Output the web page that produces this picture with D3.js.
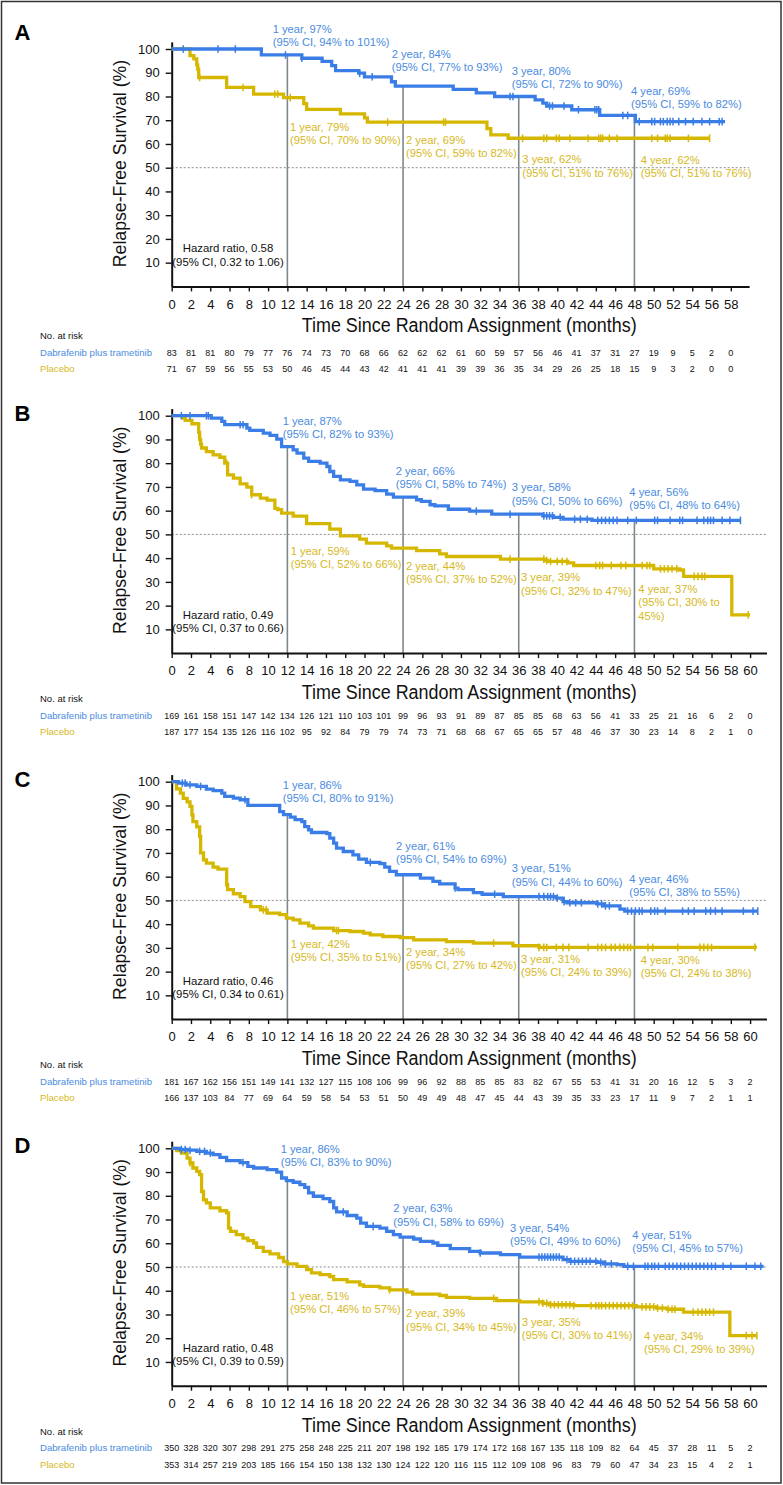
<!DOCTYPE html>
<html><head><meta charset="utf-8">
<script src="https://cdn.jsdelivr.net/npm/d3@7"></script>
<style>
body{margin:0;background:#fff}
svg{display:block}
text{font-family:"Liberation Sans",Arial,Helvetica,sans-serif}
</style>
</head><body>
<svg id="chart" width="783" height="1485"></svg>
<script>
// ---------------- DATA ----------------
const yTicks = [10,20,30,40,50,60,70,80,90,100];
const xTicksA = [0,2,4,6,8,10,12,14,16,18,20,22,24,26,28,30,32,34,36,38,40,42,44,46,48,50,52,54,56,58];
const xTicksBCD = [0,2,4,6,8,10,12,14,16,18,20,22,24,26,28,30,32,34,36,38,40,42,44,46,48,50,52,54,56,58,60];
const landmarkMonths = [12,24,36,48];
const seriesNames = ["Dabrafenib plus trametinib","Placebo"];

// Panel A
const aDabSteps = [[0,100],[9.3,97.5],[13.5,96.1],[15.6,94.8],[16.6,93],[17.0,90.9],[19.4,89.8],[20.0,88.3],[22.8,86.2],[23.2,84.4],[29.2,83],[31.6,81.5],[33.5,80],[37.7,78.6],[38.5,77.2],[38.9,76],[41.5,74.4],[44.4,72],[48.1,69.4],[57.4,69.4]];
const aDabCensor = [1.2,4.8,6.6,11.8,13.5,19.5,20.8,35.1,35.4,39.2,39.5,40.7,42.2,43.9,44.1,44.3,46.8,47.3,48.5,49.8,50.1,50.7,51.0,51.4,51.7,52.0,52.6,53.3,54.1,55.0,55.8,56.8,57.1];
const aPlaSteps = [[0,100],[1.9,97.2],[2.3,95.8],[2.6,93.3],[2.7,91.5],[2.8,88],[5.7,83.8],[8.5,81],[11.6,79.5],[13.7,77],[14.0,74.6],[17.5,72.7],[20.0,71],[20.3,69.2],[32.7,66.5],[33.1,63.8],[34.9,62.4],[55.8,62.4]];
const aPlaCensor = [2.9,7.4,10.7,11.0,12.3,22.4,28.2,28.4,36.4,38.6,38.9,39.9,40.2,41.3,43.2,44.3,44.5,44.7,45.4,46.2,49.8,50.4,51.2,51.4,51.7,53.6,55.8];
const aDabRisk = [83,81,81,80,79,77,76,74,73,70,68,66,62,62,62,61,60,59,57,56,46,41,37,31,27,19,9,5,2,0];
const aPlaRisk = [71,67,59,56,55,53,50,46,45,44,43,42,41,41,41,39,39,36,35,34,29,26,25,18,15,9,3,2,0,0];
const aDabLabels = [["1 year, 97%","(95% CI, 94% to 101%)"],["2 year, 84%","(95% CI, 77% to 93%)"],["3 year, 80%","(95% CI, 72% to 90%)"],["4 year, 69%","(95% CI, 59% to 82%)"]];
const aPlaLabels = [["1 year, 79%","(95% CI, 70% to 90%)"],["2 year, 69%","(95% CI, 59% to 82%)"],["3 year, 62%","(95% CI, 51% to 76%)"],["4 year, 62%","(95% CI, 51% to 76%)"]];
const aHazard = ["Hazard ratio, 0.58","(95% CI, 0.32 to 1.06)"];

// Panel B
const bDabSteps = [[0,100],[4.1,99],[5.2,97.6],[5.5,96.2],[7.8,94.8],[8.1,93.8],[9.5,92.7],[10.2,91.7],[10.9,90.1],[11.4,87],[12.6,85.6],[13,84.2],[13.7,82.1],[14.2,80.8],[15.4,80],[16.1,78.6],[16.4,76.5],[16.8,74.4],[17.5,73],[18.5,72.3],[19.2,70.9],[19.9,69.1],[21.1,68.4],[22.3,67],[23,65.7],[25.4,64.6],[25.9,63.9],[26.8,62.5],[27.3,62],[28.7,60.6],[30.9,59.8],[33.2,58.5],[38.5,57.8],[39.6,57.2],[40.6,56.4],[43.6,55.9],[59,55.9]];
const bDabCensor = [1.0,1.9,3.6,3.8,7.1,7.4,31.6,35.1,38.6,38.9,39.2,39.5,40.3,41.8,42.4,43.1,44.2,44.6,45.0,45.4,45.8,46.2,47.3,48.2,50.1,50.4,51.7,52.7,53.0,54.5,55.2,55.6,55.9,56.2,57.1,57.9,59.0];
const bPlaSteps = [[0,100],[1.2,99],[1.4,98],[2.1,96.6],[2.8,93],[2.9,90],[3.0,88],[3.1,86.4],[3.6,84.9],[4.3,83.5],[5.0,82.5],[5.5,80],[5.8,75.1],[6.4,73.7],[7.1,71.3],[7.8,69.9],[8.3,66.7],[9.2,65.3],[9.9,64.4],[10.7,61],[11.0,60.4],[11.4,59],[12.6,57.7],[14.0,54.5],[16.4,52.2],[17.5,49.4],[19.5,48],[20.2,46.3],[22.3,45.2],[22.8,44.2],[25.4,43.2],[27.8,41.8],[28.5,40.7],[34.1,39.6],[38.7,39],[39,38.6],[41.1,38],[41.7,36.9],[50,35.5],[52.7,35],[53.1,32.3],[58.1,16.1],[60,16.1]];
const bPlaCensor = [5.7,8.3,35.1,38.6,38.9,39.3,40.0,40.5,41.0,44.0,44.4,44.7,45.6,46.6,47.1,48.8,49.3,49.6,50.7,51.1,51.5,51.9,52.4,54.2,54.6,55.0,55.3,59.8];
const bDabRisk = [169,161,158,151,147,142,134,126,121,110,103,101,99,96,93,91,89,87,85,85,68,63,56,41,33,25,21,16,6,2,0];
const bPlaRisk = [187,177,154,135,126,116,102,95,92,84,79,79,74,73,71,68,68,67,65,65,57,48,46,37,30,23,14,8,2,1,0];
const bDabLabels = [["1 year, 87%","(95% CI, 82% to 93%)"],["2 year, 66%","(95% CI, 58% to 74%)"],["3 year, 58%","(95% CI, 50% to 66%)"],["4 year, 56%","(95% CI, 48% to 64%)"]];
const bPlaLabels = [["1 year, 59%","(95% CI, 52% to 66%)"],["2 year, 44%","(95% CI, 37% to 52%)"],["3 year, 39%","(95% CI, 32% to 47%)"],["4 year, 37%","(95% CI, 30% to","45%)"]];
const bHazard = ["Hazard ratio, 0.49","(95% CI, 0.37 to 0.66)"];

// Panel C
const cDabSteps = [[0,100],[0.7,99.4],[1.5,98.7],[2.6,98],[3.6,96.9],[4.3,96.2],[5.2,95.2],[5.5,93.8],[6.4,93.1],[7.1,92.4],[7.9,90],[11.2,87.4],[11.6,86.1],[12.3,85.1],[12.8,84],[13.5,83.2],[13.8,81.1],[14.2,79.7],[14.5,78.6],[16.1,78.1],[16.4,76.2],[16.8,74.1],[17.1,72],[17.8,70.6],[18.8,69.2],[19.4,67.4],[20.2,66],[21.6,65.5],[22.1,64],[22.6,62.2],[23.3,60.8],[25.8,59.4],[27.1,58],[27.8,57],[29.4,55.2],[29.7,54.5],[31.3,53.3],[32.2,52.6],[34.4,51.6],[39.9,51],[40.6,49.5],[41,49],[44.1,48.5],[44.8,47.7],[46.5,46.3],[47,45.5],[60.8,45.5]];
const cDabCensor = [1.1,1.4,1.9,3.0,7.6,20.6,29.4,33.5,38.1,38.6,39.0,39.3,39.6,40.0,40.7,41.3,41.9,42.5,44.2,44.6,45.0,45.4,47.3,47.7,48.1,48.5,48.8,49.7,50.1,50.4,51.2,53.0,53.6,54.2,55.4,55.9,56.4,57.1,59.3,60.3,60.8];
const cPlaSteps = [[0,100],[0.5,97],[0.9,95.2],[1.2,93],[1.6,91.5],[1.9,89.6],[2.1,86],[2.2,83.2],[2.6,81],[2.9,77],[3.0,70],[3.3,67.1],[3.6,65.7],[4.3,64],[4.8,63.2],[5.7,56.6],[5.8,54.5],[6.4,52.8],[7.1,51.6],[7.6,49.5],[8.2,47.4],[9.2,46],[9.9,44.6],[11.2,44],[11.9,42.5],[12.6,41.8],[13.3,40.4],[14.2,39.3],[14.7,38.3],[16.8,37.3],[18.5,36.9],[19.9,36.2],[20.6,35.5],[21.9,34.8],[23.7,34.3],[25.1,33.4],[28.5,32.6],[31.3,32],[35.4,30.9],[38.1,30.2],[60.7,30.2]];
const cPlaCensor = [9.5,9.8,17.1,17.3,33.4,38.1,38.6,38.9,39.9,40.6,41.2,43.2,44.2,44.6,45.0,45.6,46.0,46.5,46.9,47.3,47.6,49.4,49.9,52.5,54.8,55.2,55.6,56.0,60.5];
const cDabRisk = [181,167,162,156,151,149,141,132,127,115,108,106,99,96,92,88,85,85,83,82,67,55,53,41,31,20,16,12,5,3,2];
const cPlaRisk = [166,137,103,84,77,69,64,59,58,54,53,51,50,49,49,48,47,45,44,43,39,35,33,23,17,11,9,7,2,1,1];
const cDabLabels = [["1 year, 86%","(95% CI, 80% to 91%)"],["2 year, 61%","(95% CI, 54% to 69%)"],["3 year, 51%","(95% CI, 44% to 60%)"],["4 year, 46%","(95% CI, 38% to 55%)"]];
const cPlaLabels = [["1 year, 42%","(95% CI, 35% to 51%)"],["2 year, 34%","(95% CI, 27% to 42%)"],["3 year, 31%","(95% CI, 24% to 39%)"],["4 year, 30%","(95% CI, 24% to 38%)"]];
const cHazard = ["Hazard ratio, 0.46","(95% CI, 0.34 to 0.61)"];

// Panel D
const dDabSteps = [[0,100],[0.9,99.5],[1.6,99.2],[2.6,98.7],[3.6,98],[4.3,97.3],[5.0,96.2],[5.7,94.8],[7.1,94],[7.9,92.4],[8.5,91.7],[9.9,91],[10.9,90],[11.4,87.5],[11.9,86.4],[12.6,85.7],[13.3,84.7],[13.8,83.5],[14.2,81.2],[14.7,79.8],[15.7,78.8],[16.4,77.6],[16.8,74.9],[17.1,73.2],[18.2,71.7],[19.2,70.6],[19.6,68.5],[20.2,67.1],[21.6,66.4],[22.3,65],[23,63.6],[23.7,62.6],[25.1,61.8],[25.8,60.8],[27.1,60.1],[27.6,59.1],[28.9,57.7],[30.9,56.6],[32,55.9],[34.1,55.2],[36.1,54.2],[40.6,53.1],[41.3,52.4],[44.1,52],[44.8,51.3],[46.2,51],[46.9,50.3],[61.4,50.3]];
const dDabCensor = [1.0,1.4,1.9,2.9,3.4,4.0,7.4,17.8,20.9,32.0,38.1,38.4,38.7,39.0,39.3,39.6,39.9,40.2,41.0,41.4,41.8,42.2,42.6,43.0,43.4,44.0,44.5,45.0,45.6,47.3,47.9,49.1,49.4,49.8,50.1,50.5,51.2,51.6,52.0,52.4,52.8,53.2,53.6,54.0,54.4,54.8,55.2,55.6,56.0,56.4,57.2,58.0,59.6,60.5,61.1];
const dPlaSteps = [[0,100],[0.5,99],[1.0,98],[1.6,95.9],[1.9,93.8],[2.2,91.7],[2.6,90.3],[2.9,88.9],[3.1,81.8],[3.3,78.3],[3.6,77],[4.0,74.9],[5.0,73.7],[5.7,72.8],[5.9,66.4],[6.1,65],[6.7,63.6],[7.4,62.2],[7.9,61.1],[8.5,60.1],[8.8,58.3],[9.5,56.6],[10.2,55.5],[11.1,54],[11.6,52.3],[12.0,51.3],[13,50.3],[14,48.9],[14.5,47.5],[15.4,46.8],[16.4,46],[16.8,44.7],[18.2,43.7],[19.5,42.5],[19.9,41.8],[21.6,41.2],[22.6,40.4],[24.4,39.4],[25,38.6],[27.8,38],[28.5,37.2],[30.9,36.8],[33.7,35.8],[36.1,35.3],[38.5,34.7],[39.2,34.1],[41.7,33.7],[48.2,33.2],[50.3,32.7],[51.4,32.2],[53.1,31],[57.9,21.1],[60.7,21.1]];
const dPlaCensor = [1.9,22.6,33.4,38.1,38.5,38.9,39.3,39.7,40.1,40.5,40.9,41.3,41.7,43.5,44.0,44.3,44.6,45.0,45.4,45.8,46.2,46.6,47.0,47.4,47.8,48.8,49.2,49.6,50.0,50.4,50.9,51.5,51.9,52.2,54.1,54.6,55.0,55.4,55.8,56.2,59.6,60.2,60.7];
const dDabRisk = [350,328,320,307,298,291,275,258,248,225,211,207,198,192,185,179,174,172,168,167,135,118,109,82,64,45,37,28,11,5,2];
const dPlaRisk = [353,314,257,219,203,185,166,154,150,138,132,130,124,122,120,116,115,112,109,108,96,83,79,60,47,34,23,15,4,2,1];
const dDabLabels = [["1 year, 86%","(95% CI, 83% to 90%)"],["2 year, 63%","(95% CI, 58% to 69%)"],["3 year, 54%","(95% CI, 49% to 60%)"],["4 year, 51%","(95% CI, 45% to 57%)"]];
const dPlaLabels = [["1 year, 51%","(95% CI, 46% to 57%)"],["2 year, 39%","(95% CI, 34% to 45%)"],["3 year, 35%","(95% CI, 30% to 41%)"],["4 year, 34%","(95% CI, 29% to 39%)"]];
const dHazard = ["Hazard ratio, 0.48","(95% CI, 0.39 to 0.59)"];

// ---------------- LAYOUT (positions only) ----------------
const X0 = 171.7, PX_PER_MONTH = 9.64, PX_PER_PCT = 2.374;
const COL_BLUE = "#3a7de6", COL_YEL = "#d6b700";
const TXT_BLUE = "#4a8be0", TXT_YEL = "#d6b81c";
const panelLayout = [
  {letter:"A", top:49, letterY:39.5, xEnd:59.9, xTicks:xTicksA, riskShift:3.8,
   dab:[aDabSteps,aDabCensor,aDabRisk,aDabLabels], pla:[aPlaSteps,aPlaCensor,aPlaRisk,aPlaLabels], hz:aHazard,
   dabPos:[[272.7,-19],[391.7,6],[511.7,22.7],[631,43]], plaPos:[[290,78.7],[406,91.7],[522.3,111.3],[640.7,112]]},
  {letter:"B", top:415.7, letterY:420.8, xEnd:61.7, xTicks:xTicksBCD, riskShift:0,
   dab:[bDabSteps,bDabCensor,bDabRisk,bDabLabels], pla:[bPlaSteps,bPlaCensor,bPlaRisk,bPlaLabels], hz:bHazard,
   dabPos:[[282.7,6],[395.7,56],[511.7,72.6],[629.3,77]], plaPos:[[290.7,136],[406,151],[521,162.6],[638.3,174.3]]},
  {letter:"C", top:781.7, letterY:786.8, xEnd:61.7, xTicks:xTicksBCD, riskShift:0,
   dab:[cDabSteps,cDabCensor,cDabRisk,cDabLabels], pla:[cPlaSteps,cPlaCensor,cPlaRisk,cPlaLabels], hz:cHazard,
   dabPos:[[282.7,4.3],[396,65],[511.7,87.6],[629.3,98.3]], plaPos:[[290.7,163.3],[406,171],[521,178.3],[640.7,179.3]]},
  {letter:"D", top:1148.3, letterY:1153.4, xEnd:61.7, xTicks:xTicksBCD, riskShift:0,
   dab:[dDabSteps,dDabCensor,dDabRisk,dDabLabels], pla:[dPlaSteps,dPlaCensor,dPlaRisk,dPlaLabels], hz:dHazard,
   dabPos:[[280.7,1.7],[393.3,61],[510,80.7],[632.3,87.7]], plaPos:[[290,148.4],[406,166],[521.7,174.4],[644,188.4]]}
];

// ---------------- DRAW ----------------
const svg = d3.select("#chart");
svg.append("rect").attr("x",1.5).attr("y",1.5).attr("width",779.5).attr("height",1481.5)
  .attr("fill","none").attr("stroke","#333").attr("stroke-width",1.5);

function stepAt(steps, t){
  let v = steps[0][1];
  for (const s of steps){ if (s[0] <= t) v = s[1]; else break; }
  return v;
}

panelLayout.forEach(P => {
  const g = svg.append("g");
  const y0 = P.top + 100*PX_PER_PCT;
  const x = d3.scaleLinear().domain([0, P.xEnd]).range([X0, X0 + P.xEnd*PX_PER_MONTH]);
  const y = d3.scaleLinear().domain([0, 103]).range([y0, y0 - 103*PX_PER_PCT]);

  g.append("text").attr("x",14.5).attr("y",P.letterY).attr("font-size",22).attr("font-weight","bold")
    .attr("fill","#000").text(P.letter);

  g.append("line").attr("x1",x(0)).attr("x2",x(P.xEnd)).attr("y1",y(50)).attr("y2",y(50))
    .attr("stroke","#8a8a8a").attr("stroke-width",1).attr("stroke-dasharray","2,2");

  landmarkMonths.forEach(m => {
    g.append("line").attr("x1",x(m)).attr("x2",x(m)).attr("y1",y(0)).attr("y2",y(stepAt(P.dab[0], m)))
      .attr("stroke","#7d888d").attr("stroke-width",1.6);
  });

  const xa = g.append("g").attr("transform",`translate(0,${y0})`)
    .call(d3.axisBottom(x).tickValues(P.xTicks).tickSize(5).tickPadding(8).tickSizeOuter(0));
  const ya = g.append("g").attr("transform",`translate(${X0},0)`)
    .call(d3.axisLeft(y).tickValues(yTicks).tickSize(6).tickPadding(6).tickSizeOuter(0));
  [xa, ya].forEach(a => {
    a.select(".domain").attr("stroke","#111").attr("stroke-width",2);
    a.selectAll(".tick line").attr("stroke","#111").attr("stroke-width",1.4);
    a.selectAll(".tick text").attr("font-size",13).attr("fill","#111")
      .attr("font-family","'Liberation Sans',Arial,sans-serif");
  });

  const line = d3.line().x(d => x(d[0])).y(d => y(d[1])).curve(d3.curveStepAfter);
  [[P.pla, COL_YEL],[P.dab, COL_BLUE]].forEach(([S, col]) => {
    g.append("path").datum(S[0]).attr("d", line).attr("fill","none")
      .attr("stroke", col).attr("stroke-width",3.3);
    g.selectAll(null).data(S[1]).enter().append("line")
      .attr("x1", d => x(d)).attr("x2", d => x(d))
      .attr("y1", d => y(stepAt(S[0], d)) - 3.8).attr("y2", d => y(stepAt(S[0], d)) + 3.8)
      .attr("stroke", col).attr("stroke-width",1.5);
  });

  const LH = 13.3;
  [[P.dab[3], P.dabPos, TXT_BLUE],[P.pla[3], P.plaPos, TXT_YEL]].forEach(([labs, pos, col]) => {
    labs.forEach((lines, i) => {
      lines.forEach((s, j) => {
        g.append("text").attr("x", pos[i][0]).attr("y", P.top + pos[i][1] + j*LH)
          .attr("dominant-baseline","middle").attr("font-size",11.2).attr("fill",col).text(s);
      });
    });
  });

  P.hz.forEach((s, j) => {
    g.append("text").attr("x",228).attr("y",P.top + 200.3 + j*LH).attr("text-anchor","middle")
      .attr("dominant-baseline","middle").attr("font-size",11.4).attr("fill","#111").text(s);
  });

  g.append("text").attr("transform",`translate(121.7,${P.top+114.5}) rotate(-90)`)
    .attr("text-anchor","middle").attr("dominant-baseline","middle")
    .attr("font-size",17.7).attr("fill","#111").text("Relapse-Free Survival (%)");
  g.append("text").attr("x",301.7).attr("y",y0+40.8).attr("dominant-baseline","middle")
    .attr("font-size",20).attr("fill","#111")
    .attr("textLength",335).attr("lengthAdjust","spacingAndGlyphs")
    .text("Time Since Random Assignment (months)");

  const rs = P.riskShift;
  g.append("text").attr("x",40).attr("y",y0+46.6+rs).attr("dominant-baseline","middle")
    .attr("font-size",9.5).attr("fill","#111").text("No. at risk");
  [[P.dab[2], seriesNames[0], TXT_BLUE, 63.1],[P.pla[2], seriesNames[1], TXT_YEL, 79.6]].forEach(([risk, name, col, off]) => {
    g.append("text").attr("x",40).attr("y",y0+off+rs).attr("dominant-baseline","middle")
      .attr("font-size",9.6).attr("fill",col).text(name);
    g.selectAll(null).data(risk).enter().append("text")
      .attr("x",(d,i) => x(P.xTicks[i])).attr("y",y0+off+rs).attr("text-anchor","middle")
      .attr("dominant-baseline","middle").attr("font-size",9).attr("fill","#111").text(d => d);
  });
});
</script>
</body></html>
